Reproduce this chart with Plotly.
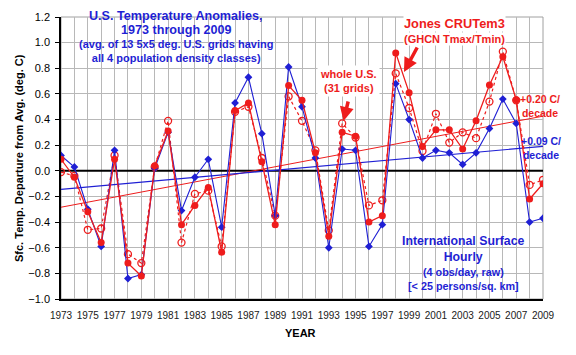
import numpy as np
import plotly.graph_objects as go

years = list(range(1973, 2010))
ish_13grids = [0.12, 0.03, -0.30, -0.59, 0.16, -0.84, -0.81, 0.02, 0.30, -0.31,
               -0.05, 0.09, -0.44, 0.53, 0.73, 0.29, -0.35, 0.81, 0.50, 0.10,
               -0.60, 0.17, 0.16, -0.59, -0.42, 0.68, 0.40, 0.10, 0.16, 0.14,
               0.05, 0.14, 0.33, 0.56, 0.37, -0.40, -0.37]
crutem3 = [0.09, -0.05, -0.32, -0.56, 0.09, -0.72, -0.82, 0.04, 0.31, -0.42,
           -0.27, -0.13, -0.635, 0.47, 0.53, 0.07, -0.42, 0.665, 0.55, 0.14,
           -0.51, 0.30, 0.27, -0.40, -0.35, 0.92, 0.61, 0.19, 0.32, 0.32,
           0.17, 0.39, 0.67, 0.89, 0.555, -0.22, -0.10]
ish_whole_us = [-0.01, -0.04, -0.46, -0.45, 0.12, -0.65, -0.72, 0.03, 0.39, -0.56,
                -0.18, -0.155, -0.59, 0.46, 0.50, 0.10, -0.35, 0.58, 0.39, 0.16,
                -0.465, 0.37, 0.26, -0.27, -0.23, 0.76, 0.49, 0.155, 0.445, 0.22,
                0.30, 0.255, 0.54, 0.93, 0.55, -0.11, -0.07]

x_tick_vals = list(range(1973, 2010, 2))
y_tick_vals = [-1.0, -0.8, -0.6, -0.4, -0.2, 0.0, 0.2, 0.4, 0.6, 0.8, 1.0, 1.2]

BLUE = "#1f1fd4"
RED = "#ee1c1c"
FONT = "Liberation Sans, Arial, sans-serif"

# Target plot area in page pixels (page has an 8px body margin)
PAGE_OFF = 8
PL, PR, PT, PB = 61, 543, 17, 299
W, H = 576, 355
PW, PH = PR - PL, PB - PT

yrs = np.array(years, dtype=float)
red_fit = np.polyfit(yrs, np.array(crutem3), 1)
blue_fit = np.polyfit(yrs, np.array(ish_13grids), 1)
trend_x = [years[0], years[-1]]

fig = go.Figure()

fig.add_trace(go.Scatter(x=trend_x, y=list(np.polyval(red_fit, trend_x)), mode="lines",
                         line=dict(color=RED, width=1), hoverinfo="skip"))
fig.add_trace(go.Scatter(x=trend_x, y=list(np.polyval(blue_fit, trend_x)), mode="lines",
                         line=dict(color=BLUE, width=1.2), hoverinfo="skip"))
fig.add_trace(go.Scatter(x=years, y=ish_whole_us, mode="lines+markers",
                         line=dict(color=RED, width=1.2, dash="dot"),
                         marker=dict(symbol="circle-open", size=7, color=RED,
                                     line=dict(width=1.3, color=RED))))
fig.add_trace(go.Scatter(x=years, y=ish_13grids, mode="lines+markers",
                         line=dict(color=BLUE, width=1.1),
                         marker=dict(symbol="diamond", size=6, color=BLUE)))
fig.add_trace(go.Scatter(x=years, y=crutem3, mode="lines+markers",
                         line=dict(color=RED, width=1.3),
                         marker=dict(symbol="circle", size=7, color=RED)))


def pxx(px):
    return (px - PL) / PW


def pxy(py):
    return (PB - py) / PH


shapes = [
    dict(type="line", xref="x", yref="y", x0=1973, x1=2009, y0=0, y1=0,
         line=dict(color="black", width=2), layer="between"),
    dict(type="rect", xref="paper", yref="paper", x0=pxx(62), x1=pxx(300), y0=pxy(63), y1=1.02,
         fillcolor="white", line=dict(width=0), layer="between"),
    dict(type="rect", xref="paper", yref="paper", x0=pxx(395), x1=pxx(535), y0=pxy(298), y1=pxy(230),
         fillcolor="white", line=dict(width=0), layer="between"),
    dict(type="rect", xref="paper", yref="paper", x0=0, x1=1, y0=0, y1=1,
         line=dict(color="#a0a0a0", width=1), layer="below"),
]
fig.update_layout(shapes=shapes)


def ann(text, px, py, size, color, **kw):
    fig.add_annotation(text=text, x=pxx(px), y=pxy(py), xref="paper", yref="paper",
                       xanchor="center", yanchor="middle",
                       showarrow=False, font=dict(family=FONT, size=size, color=color), **kw)


# Title block
ann("<b>U.S. Temperature Anomalies,</b>", 176, 16, 12.6, BLUE, borderpad=0)
ann("<b>1973 through 2009</b>", 176, 30.5, 12.6, BLUE, borderpad=0)
ann("<b>(avg. of 13 5x5 deg. U.S. grids having<br>all 4 population density classes)</b>",
    176, 51, 11, BLUE)

# Jones
ann("<b>Jones CRUTem3</b>", 454, 23, 12.8, RED, bgcolor="white", borderpad=0)
ann("<b>(GHCN Tmax/Tmin)</b>", 454, 38.5, 11, RED, bgcolor="white", borderpad=0)
# whole U.S.
ann("<b>whole U.S.<br>(31 grids)</b>", 348, 81, 11, RED, bgcolor="white", borderpad=2)

# trend labels
ann("<b>+0.20 C/<br>decade</b>", 540, 105.5, 10.5, RED)
ann("<b>+0.09 C/<br>decade</b>", 541, 147.5, 10.5, BLUE)

# International
ann("<b>International Surface<br>Hourly</b>", 463, 249, 12.3, BLUE)
ann("<b>(4 obs/day, raw)<br>[< 25 persons/sq. km]</b>", 463, 279, 10.8, BLUE)

# arrows
fig.add_annotation(x=pxx(404), y=pxy(72), xref="paper", yref="paper", text="",
                   showarrow=True, ax=14, ay=-26, arrowhead=2, arrowsize=0.8,
                   arrowwidth=3.5, arrowcolor=RED)
fig.add_annotation(x=pxx(343.5), y=pxy(121), xref="paper", yref="paper", text="",
                   showarrow=True, ax=5, ay=-21, arrowhead=2, arrowsize=0.8,
                   arrowwidth=3.5, arrowcolor=RED)

# axis titles
ann("<b>YEAR</b>", 300, 333, 11, "black")
fig.add_annotation(text="<b>Sfc. Temp. Departure from Avg. (deg. C)</b>", x=pxx(19), y=pxy(158),
                   xref="paper", yref="paper", textangle=-90, xanchor="center", yanchor="middle",
                   showarrow=False, font=dict(family=FONT, size=11, color="black"))

fig.update_layout(
    width=W, height=H,
    margin=dict(l=PL - PAGE_OFF, r=W - (PR - PAGE_OFF), t=PT - PAGE_OFF, b=H - (PB - PAGE_OFF)),
    paper_bgcolor="white", plot_bgcolor="white",
    showlegend=False,
    font=dict(family=FONT, color="black"),
    xaxis=dict(range=[1973, 2009], tickvals=x_tick_vals, ticktext=[str(v) for v in x_tick_vals],
               showgrid=True, gridcolor="#b8b8b8", gridwidth=1,
               minor=dict(dtick=1, tick0=1973, showgrid=True, gridcolor="#b8b8b8", gridwidth=1),
               showline=True, linecolor="black", linewidth=1.5,
               ticks="", ticklabelstandoff=6, zeroline=False, automargin=False,
               tickfont=dict(size=10, color="#202020")),
    yaxis=dict(range=[-1.0, 1.2], tickvals=y_tick_vals, tickformat=".1f",
               showgrid=True, gridcolor="#b8b8b8", gridwidth=1,
               showline=True, linecolor="black", linewidth=1.5,
               ticks="outside", ticklen=4, tickcolor="black", ticklabelstandoff=3,
               zeroline=False, automargin=False, tickfont=dict(size=11),
               tickprefix="<b>", ticksuffix="</b>"),
)

fig.write_html("out.html")
